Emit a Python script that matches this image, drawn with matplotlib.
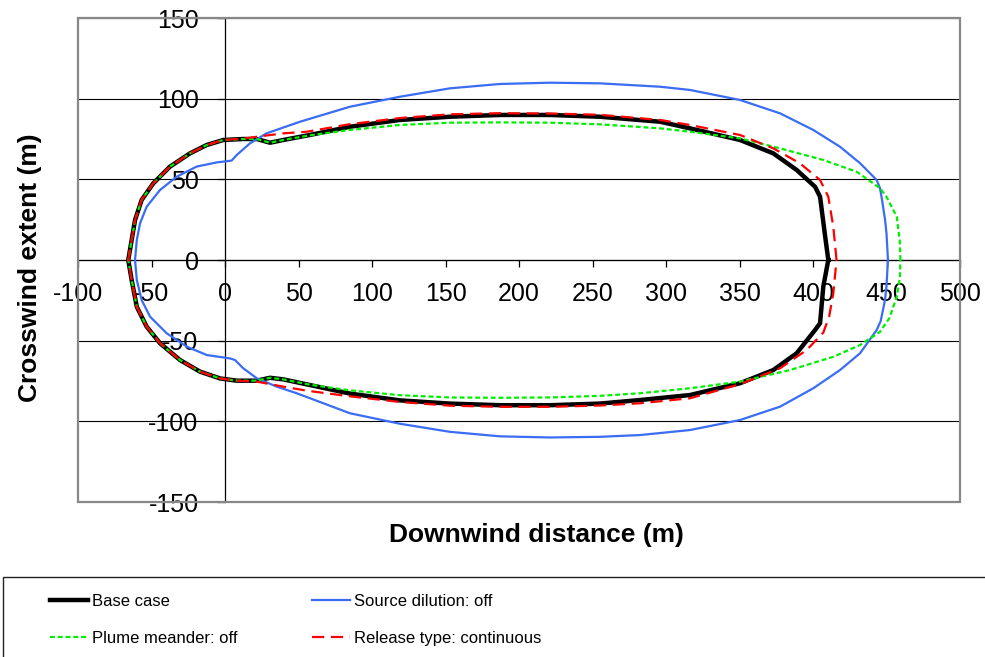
import matplotlib
matplotlib.use("Agg")
import matplotlib.pyplot as plt
from matplotlib.patches import Rectangle

plt.rcParams['font.family'] = ['Liberation Sans', 'DejaVu Sans']
plt.rcParams['axes.unicode_minus'] = False

# contour points, going from the downwind tip over the top,
# round the source and back along the bottom
base_x = [410.4, 408, 404.8, 401.4, 388.9, 373, 350.3, 316.3, 296, 255, 221, 187, 153, 119, 85, 57.8,
          39.7, 30.6, 21.6, 12.4, -1.1, -12.4, -23.8, -37.4, -48.8, -56.7, -61.2, -63.5, -65.8,
          -63.5, -60, -53.3, -44.2, -30.6, -17, -3.4, 8, 21.6, 30.6, 39.7, 57.8, 85, 119, 153, 187, 221,
          255, 282.3, 316.3, 350.3, 373, 388.9, 401.4, 404.8, 407, 410.4]
base_y = [0, 16.5, 39.2, 45.4, 55.8, 66.1, 74.4, 81.6, 85.7, 88.8, 89.9, 89.9, 88.8, 86.8, 82.6, 77.5,
          74.4, 72.7, 75, 75, 74.4, 71.3, 66.1, 57.9, 47.5, 37.2, 24.8, 12.4, 0,
          -12.4, -29, -41.3, -51.6, -62, -69.2, -73.4, -74.8, -74.8, -73, -74, -77.5, -82.8, -87, -89, -90, -90,
          -89, -86.8, -83.7, -76.4, -68.2, -57.8, -43.4, -39.2, -16.5, 0]

dilution_x = [451, 450, 449, 447, 445.6, 443.3, 432, 418.4, 400.2, 377.6, 350.3, 316.3, 296, 255, 221, 187,
              153, 119, 85, 51, 28.3, 17, 8, 4.5, -5.6, -19.3, -32.9, -44.2, -53.3, -57.8, -60, -61.2,
              -60, -56.7, -51, -39.7, -26, -12.4, 3.4, 6.8, 12.4, 21.6, 35.2, 48.8, 85, 119, 153, 187, 221,
              255, 282.3, 316.3, 350.3, 377.6, 400.2, 418.4, 432, 443.3, 446, 449, 450, 451]
dilution_y = [0, 16.5, 25, 37, 44.5, 49.6, 60, 70.2, 80.6, 90.9, 99.2, 105.4, 107.4, 109.5, 109.9, 109.1,
              106.4, 101.2, 95, 85.7, 78.5, 72.3, 65.1, 61.6, 60.5, 57.9, 51.6, 43.4, 33, 22.7, 12.4, 0,
              -12.4, -24.8, -35.1, -45.4, -53.7, -58.9, -61, -62, -67.1, -73.3, -78.5, -82.6, -95, -101.5,
              -106.5, -109.3, -110, -109.6, -108.5, -105.4, -99.2, -90.9, -79.5, -68.2, -57.8, -43.4, -38,
              -24.8, -16, 0]

meander_x = [459.5, 459, 457, 450, 445.6, 429.7, 407, 377.6, 350.3, 316.3, 296, 255, 221, 187, 153, 119, 85,
             57.8, 39.7, 30.6, 21.6, 12.4, -1.1, -12.4, -23.8, -37.4, -48.8, -56.7, -61.2, -63.5, -65.8,
             -63.5, -60, -53.3, -44.2, -30.6, -17, -3.4, 8, 21.6, 30.6, 39.7, 57.8, 85, 119, 153, 187, 221,
             255, 282.3, 316.3, 350.3, 384.4, 413.8, 432, 445.6, 452, 457, 459, 459.5]
meander_y = [0, 12, 26.8, 39.2, 44.5, 54.7, 62, 69.2, 75.4, 79.5, 81.6, 84.1, 85.1, 85.3, 85.1, 83.7, 80.6,
             77.3, 74.4, 72.7, 75, 75, 74.4, 71.3, 66.1, 57.9, 47.5, 37.2, 24.8, 12.4, 0,
             -12.4, -29, -41.3, -51.6, -62, -69.2, -73.4, -74.8, -74.8, -73, -74, -77.3, -80.8, -83.8, -85.2,
             -85.4, -85.2, -84.2, -82.6, -79.5, -75.4, -68.2, -60, -52.7, -44.5, -36, -22.7, -12, 0]

release_x = [416, 413.8, 410.4, 404.8, 391, 373, 350.3, 316.3, 296, 255, 221, 187, 153, 119, 85, 55.6, 39.7,
             21.6, 12.4, -1.1, -12.4, -23.8, -37.4, -48.8, -56.7, -61.2, -63.5, -65.8,
             -63.5, -60, -53.3, -44.2, -30.6, -17, -3.4, 8, 21.6, 39.7, 55.6, 85, 119, 153, 187, 221, 255,
             282.3, 316.3, 350.3, 377.6, 395.7, 407, 411, 413.8, 416]
release_y = [0, 20.7, 39.2, 49.6, 60, 69.2, 77.5, 83.7, 86.8, 90, 90.8, 91, 90.3, 88, 84.2, 79.5, 78.5,
             76.4, 75.2, 74.4, 71.3, 66.1, 57.9, 47.5, 37.2, 24.8, 12.4, 0,
             -12.4, -29, -41.3, -51.6, -62, -69.2, -73.4, -74.8, -75.4, -78.5, -81, -84.5, -88, -90.3, -91, -91,
             -90.2, -88.8, -85.7, -77, -67.1, -55.8, -45, -35, -20.7, 0]

labels = ['Base case', 'Source dilution: off', 'Plume meander: off', 'Release type: continuous']
x_ticks = list(range(-100, 501, 50))
y_ticks = list(range(-150, 151, 50))

fig = plt.figure(figsize=(9.85, 6.57), dpi=100)
ax = fig.add_axes([78 / 985, 1 - 502 / 657, (960 - 78) / 985, (502 - 18) / 657])

l_base, = ax.plot(base_x, base_y, color='black', lw=3.2, zorder=3, solid_joinstyle='round')
l_dil, = ax.plot(dilution_x, dilution_y, color='#3a6cf4', lw=1.6, zorder=4, solid_joinstyle='round')
l_mea, = ax.plot(meander_x, meander_y, color='#00ee00', lw=1.6, dashes=(2.2, 1.3), zorder=5)
l_rel, = ax.plot(release_x, release_y, color='#ff0000', lw=1.6, dashes=(5.5, 3), zorder=6)

ax.set_xlim(-100, 500)
ax.set_ylim(-150, 150)
ax.set_xticks(x_ticks)
ax.set_yticks(y_ticks)

# axes cross at zero, like the excel sheet
ax.spines['left'].set_position(('data', 0))
ax.spines['bottom'].set_position(('data', 0))
ax.spines['top'].set_visible(False)
ax.spines['right'].set_visible(False)
for s in ['left', 'bottom']:
    ax.spines[s].set_linewidth(0.9)
    ax.spines[s].set_zorder(2)

ax.grid(axis='y', color='black', lw=0.8)
ax.set_axisbelow(True)
ax.tick_params(axis='x', direction='out', length=5, width=0.9, pad=11, labelsize=18)
ax.tick_params(axis='y', direction='out', length=6, width=0.9, pad=13, labelsize=18)

ax.add_patch(Rectangle((0, 0), 1, 1, transform=ax.transAxes, fill=False,
                       edgecolor='#888888', lw=1.6, clip_on=False, zorder=7))

fig.text(536 / 985, 1 - 535 / 657, 'Downwind distance (m)', ha='center', va='center',
         fontsize=19, fontweight='bold')
fig.text(30 / 985, 1 - 268 / 657, 'Crosswind extent (m)', ha='center', va='center',
         rotation=90, fontsize=19, fontweight='bold')

# legend box at the bottom, two columns
fig.patches.append(Rectangle((3 / 985, -0.02), 1.1, (657 - 577) / 657 + 0.02, transform=fig.transFigure,
                             fill=False, edgecolor='#222222', lw=1))
for handles, names, x0 in [([l_base, l_mea], [labels[0], labels[2]], 50),
                           ([l_dil, l_rel], [labels[1], labels[3]], 312)]:
    fig.legend(handles, names, loc='center left', bbox_to_anchor=(x0 / 985, 1 - 620 / 657),
               frameon=False, fontsize=12, borderpad=0, borderaxespad=0,
               handlelength=2.3, handletextpad=0.25, labelspacing=1.35)

fig.savefig('out.png', dpi=100)
